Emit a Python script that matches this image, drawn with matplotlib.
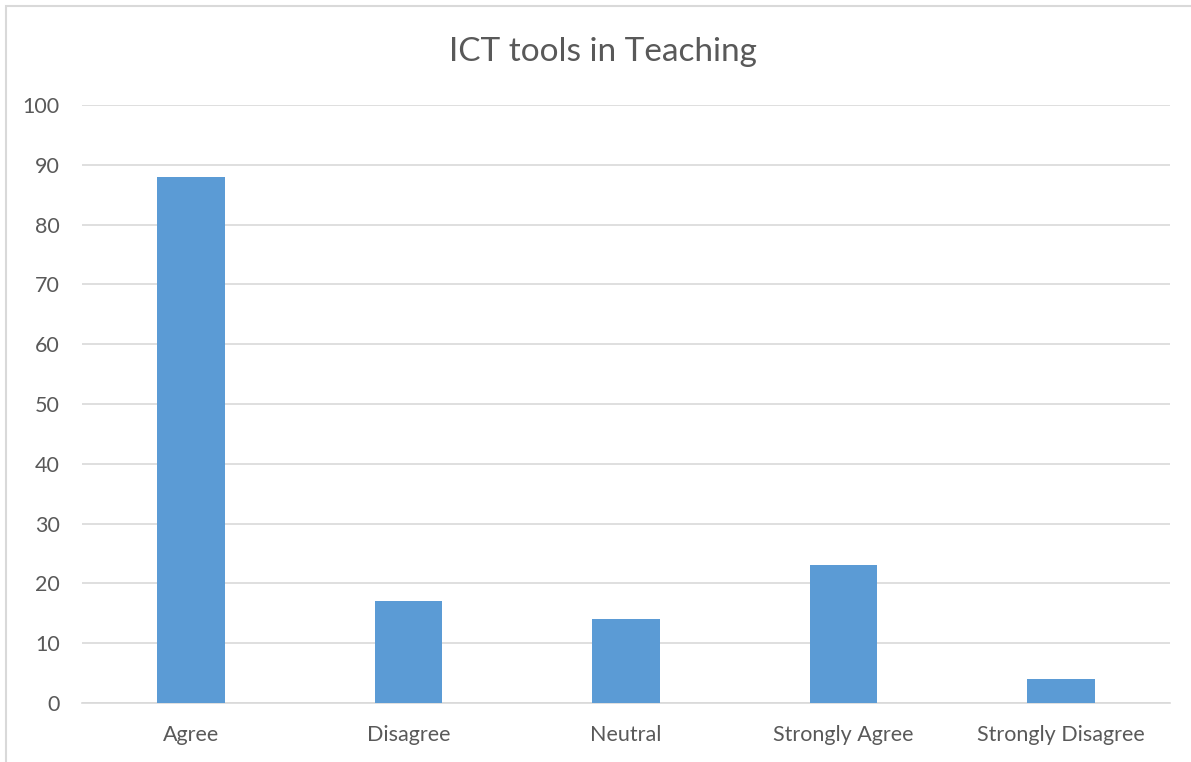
import matplotlib
matplotlib.use('Agg')
import matplotlib.pyplot as plt
from matplotlib.patches import Rectangle

categories = ['Agree', 'Disagree', 'Neutral', 'Strongly Agree', 'Strongly Disagree']
values = [88, 17, 14, 23, 4]
yticks = [0, 10, 20, 30, 40, 50, 60, 70, 80, 90, 100]

plt.rcParams['font.family'] = ['Lato', 'DejaVu Sans']
text_col = '#595959'

fig = plt.figure(figsize=(11.91, 7.62), dpi=100)
ax = fig.add_axes([82 / 1191, 1 - 703 / 762, (1170 - 82) / 1191, (703 - 105) / 762])

# chart border (left and top only visible)
fig.patches.append(Rectangle((6 / 1191, -0.1), 1.2, 756 / 762 + 0.1,
                             transform=fig.transFigure, fill=False,
                             edgecolor='#D9D9D9', linewidth=1.5))

x = range(len(categories))
ax.bar(x, values, width=0.31, color='#5B9BD5', zorder=3)

ax.set_xlim(-0.5, len(categories) - 0.5)
ax.set_ylim(0, 100)
ax.set_yticks(yticks)
ax.set_xticks(list(x))
ax.set_xticklabels(categories)
ax.grid(axis='y', color='#D9D9D9', linewidth=1.2, zorder=0)
for s in ['top', 'right', 'left']:
    ax.spines[s].set_visible(False)
ax.spines['bottom'].set_color('#D9D9D9')
ax.spines['bottom'].set_linewidth(1.2)
ax.tick_params(axis='both', length=0, colors=text_col, labelsize=15.5)
ax.tick_params(axis='y', pad=16)
ax.tick_params(axis='x', pad=16)

fig.text(603 / 1191, 1 - 52 / 762, 'ICT tools in Teaching', ha='center', va='center',
         fontsize=24, color=text_col)

fig.savefig('out.png', dpi=100)
